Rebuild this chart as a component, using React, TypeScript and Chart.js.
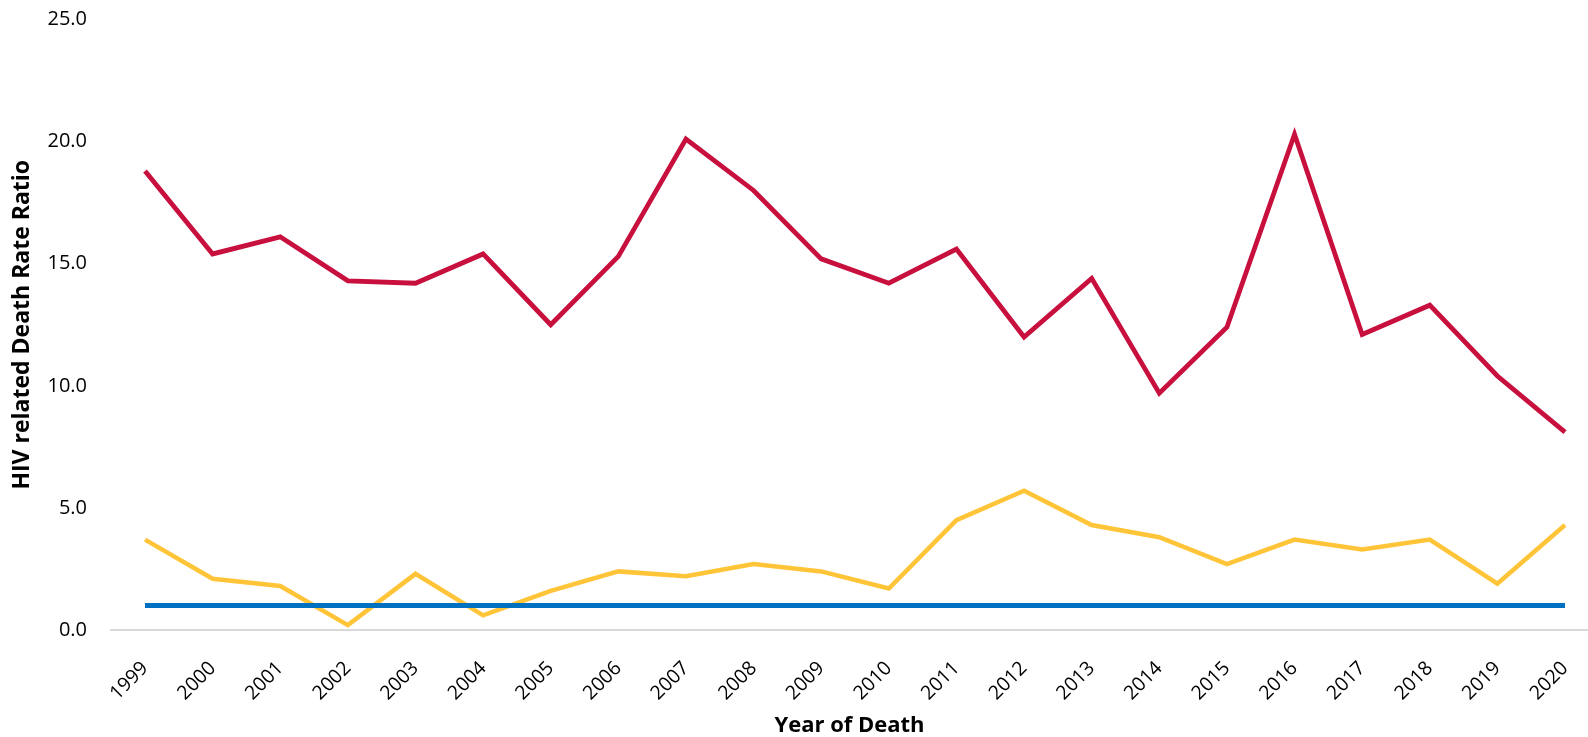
import React, { useEffect, useRef } from "react";
import { Chart, registerables } from "chart.js";

Chart.register(...registerables);

const years = [1999, 2000, 2001, 2002, 2003, 2004, 2005, 2006, 2007, 2008, 2009, 2010, 2011, 2012, 2013, 2014, 2015, 2016, 2017, 2018, 2019, 2020];
const redSeries = [18.8, 15.4, 16.1, 14.3, 14.2, 15.4, 12.5, 15.3, 20.1, 18.0, 15.2, 14.2, 15.6, 12.0, 14.4, 9.7, 12.4, 20.3, 12.1, 13.3, 10.4, 8.1];
const yellowSeries = [3.7, 2.1, 1.8, 0.2, 2.3, 0.6, 1.6, 2.4, 2.2, 2.7, 2.4, 1.7, 4.5, 5.7, 4.3, 3.8, 2.7, 3.7, 3.3, 3.7, 1.9, 4.3];
const blueSeries = [1.0, 1.0, 1.0, 1.0, 1.0, 1.0, 1.0, 1.0, 1.0, 1.0, 1.0, 1.0, 1.0, 1.0, 1.0, 1.0, 1.0, 1.0, 1.0, 1.0, 1.0, 1.0];
const yTicks = [0, 5, 10, 15, 20, 25];

const toPoints = (vals: number[]) => vals.map((v, i) => ({ x: years[i], y: v }));

export default function App() {
  const ref = useRef<HTMLCanvasElement | null>(null);

  useEffect(() => {
    if (!ref.current) return;
    const tickFont = { family: "'Open Sans', sans-serif", size: 20 };
    const xTickFont = { family: "'Open Sans', sans-serif", size: 19.5 };
    const xTitleFont = { family: "'Open Sans', sans-serif", size: 22, weight: "bold" as const, lineHeight: 1.0 };
    const yTitleFont = { family: "'Open Sans', sans-serif", size: 23, weight: "bold" as const };
    const chart = new Chart(ref.current, {
      type: "line",
      data: {
        datasets: [
          {
            label: "Red",
            data: toPoints(redSeries),
            borderColor: "#C8103E",
            borderWidth: 4.8,
            pointRadius: 0,
            tension: 0,
            order: 3,
          },
          {
            label: "Yellow",
            data: toPoints(yellowSeries),
            borderColor: "#FFC437",
            borderWidth: 4.5,
            pointRadius: 0,
            tension: 0,
            order: 2,
          },
          {
            label: "Blue",
            data: toPoints(blueSeries),
            borderColor: "#0070C0",
            borderWidth: 5,
            pointRadius: 0,
            tension: 0,
            order: 1,
          },
        ],
      },
      options: {
        animation: false,
        responsive: false,
        maintainAspectRatio: false,
        layout: { padding: { top: 19.5, right: 0, left: 0, bottom: 0 } },
        plugins: { legend: { display: false }, tooltip: { enabled: false } },
        scales: {
          x: {
            type: "linear",
            min: 1998.497,
            max: 2020.34,
            grid: { display: false, drawTicks: false },
            border: { display: true, color: "#D9D9D9", width: 2 },
            afterBuildTicks: (scale: any) => {
              scale.ticks = years.map((y) => ({ value: y }));
            },
            afterFit: (scale: any) => {
              scale.height = 107;
              scale.paddingLeft = 0;
              scale.paddingRight = 0;
            },
            ticks: {
              autoSkip: false,
              minRotation: 45,
              maxRotation: 45,
              padding: 27,
              color: "#000",
              font: xTickFont,
              callback: (v: any) => String(v),
            },
            title: {
              display: true,
              text: "Year of Death",
              color: "#000",
              font: xTitleFont,
              padding: { top: 0, bottom: 0 },
            },
          },
          y: {
            min: 0,
            max: 25,
            grid: { display: false, drawTicks: false },
            border: { display: false },
            afterBuildTicks: (scale: any) => {
              scale.ticks = yTicks.map((v) => ({ value: v }));
            },
            afterFit: (scale: any) => {
              scale.width = 111;
              scale.paddingTop = 0;
              scale.paddingBottom = 0;
            },
            ticks: {
              padding: 24,
              color: "#000",
              font: tickFont,
              callback: (v: any) => Number(v).toFixed(1),
            },
            title: {
              display: true,
              text: "HIV related Death Rate Ratio",
              color: "#000",
              font: yTitleFont,
              padding: { top: 9, bottom: 0 },
            },
          },
        },
      },
    });
    return () => chart.destroy();
  }, []);

  return (
    <div style={{ position: "fixed", left: 0, top: 0, width: 1588, height: 737, background: "#fff" }}>
      <canvas ref={ref} width={1588} height={737} style={{ width: 1588, height: 737, display: "block" }} />
    </div>
  );
}
